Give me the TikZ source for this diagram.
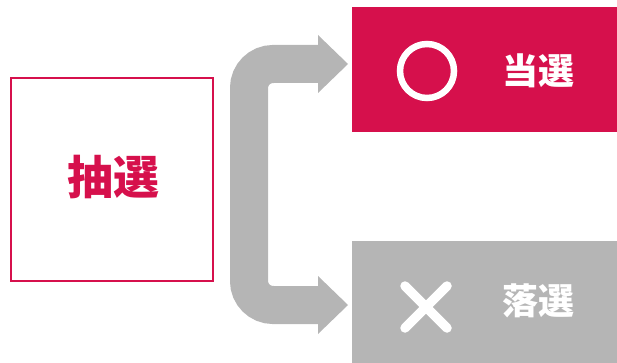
\documentclass[tikz,border=0pt]{standalone}
\usepackage{fontspec}
\newfontfamily\cjk{Noto Sans CJK JP}
\definecolor{crim}{RGB}{214,16,76}
\definecolor{gry}{RGB}{181,181,181}
\begin{document}
\begin{tikzpicture}[x=1pt,y=-1pt,
  lbl/.style={font=\cjk\bfseries, inner sep=0pt, anchor=center},
  flow/.style={draw=gry, line width=38pt, rounded corners=24pt},
  head/.style={fill=gry, draw=none}]
\useasboundingbox (0,0) rectangle (617,363);
% left box
\node[draw=crim, line width=1.5pt, minimum width=202pt, minimum height=203pt, inner sep=0pt] (lot) at (112,179.5) {};
\node[lbl, text=crim, font=\cjk\bfseries\fontsize{46}{46}\selectfont] (lottxt) at (113,177) {抽選};
% result boxes
\fill[crim] (352,7) rectangle (617,132);
\coordinate (win) at (352,69.5);
\fill[gry] (352,241) rectangle (617,363);
\coordinate (lose) at (352,302);
% circle mark
\draw[white, line width=6.5pt] (427,71) circle (27);
\node[lbl, text=white, font=\cjk\bfseries\fontsize{36}{36}\selectfont] (wintxt) at (538,71) {当選};
% cross mark
\draw[white, line width=9.5pt, line cap=round] (405,286) -- (447,328) (405,328) -- (447,286);
\node[lbl, text=white, font=\cjk\bfseries\fontsize{36}{36}\selectfont] (losetxt) at (538,301) {落選};
% C-shaped arrow
\coordinate (a1) at (320,64);
\coordinate (a2) at (320,305);
\draw[flow] (a1) -- (249,64) -- (249,305) -- (a2);
\fill[head] (318,35) -- (348,64) -- (318,93) -- cycle;
\fill[head] (318,276) -- (348,305) -- (318,334) -- cycle;
\end{tikzpicture}
\end{document}
